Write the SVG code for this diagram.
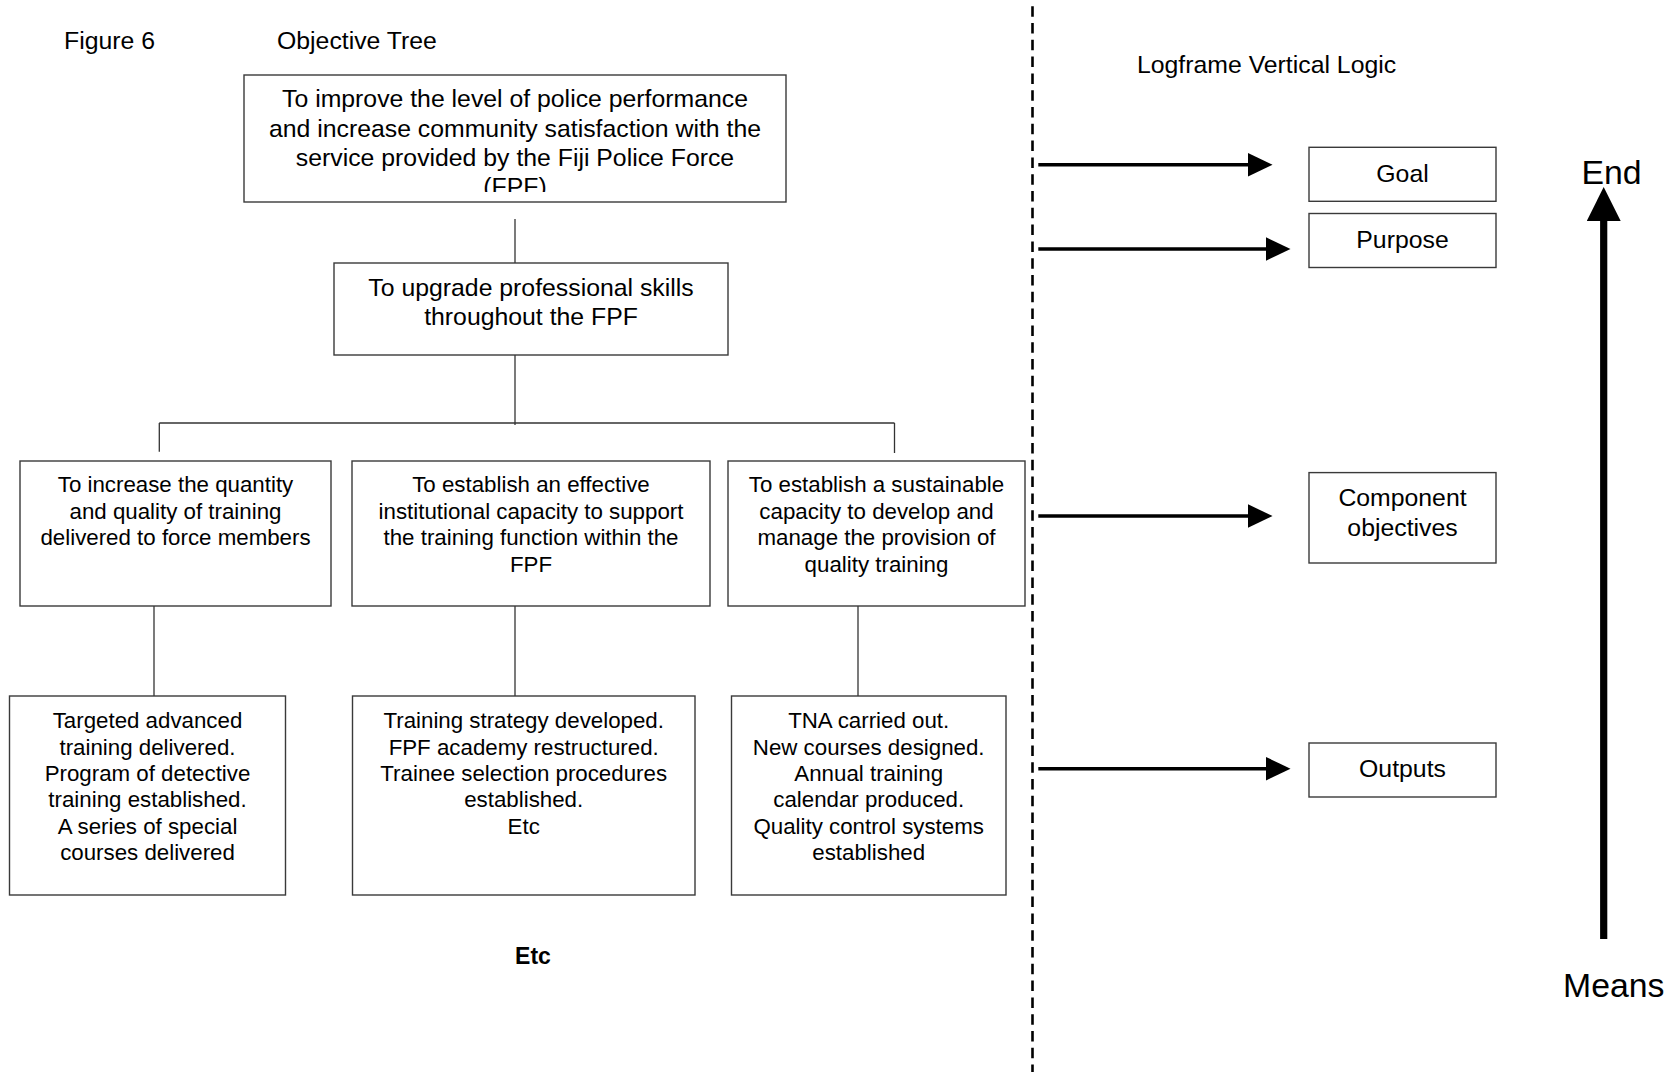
<svg xmlns="http://www.w3.org/2000/svg" width="1669" height="1072" viewBox="0 0 1669 1072">
  <style>
    text { font-family: "Liberation Sans", Arial, sans-serif; fill: #000; }
    .big { font-size: 24.8px; }
    .small { font-size: 22.3px; }
    .huge { font-size: 33.8px; }
    .mid { text-anchor: middle; }
    .box { fill: #fff; stroke: #3a3a3a; stroke-width: 1.4; }
    .conn { stroke: #333; stroke-width: 1.3; fill: none; }
    .arrow { stroke: #000; stroke-width: 3.4; fill: none; }
    .divider { stroke: #000; stroke-width: 2.6; stroke-dasharray: 10.5 6.3; stroke-dashoffset: 10.6; fill: none; }
  </style>
  <defs>
    <marker id="head" markerUnits="userSpaceOnUse" markerWidth="26" markerHeight="24" refX="1" refY="11.7" orient="auto">
      <path d="M0,0 L24.5,11.7 L0,23.4 Z" fill="#000"/>
    </marker>
    <marker id="bighead" markerUnits="userSpaceOnUse" markerWidth="36" markerHeight="36" refX="1" refY="17" orient="auto">
      <path d="M0,0 L34,17 L0,34 Z" fill="#000"/>
    </marker>
    <clipPath id="clipTop">
      <rect x="244" y="75" width="542" height="117"/>
    </clipPath>
  </defs>
  <rect x="0" y="0" width="1669" height="1072" fill="#fff"/>

  <!-- headings -->
  <g id="headings">
    <text class="big" x="64" y="49">Figure 6</text>
    <text class="big" x="277" y="49">Objective Tree</text>
    <text class="big" x="1137" y="73">Logframe Vertical Logic</text>
    <text class="big" x="533" y="964" style="font-weight:bold;font-size:23px" text-anchor="middle">Etc</text>
  </g>

  <!-- connectors -->
  <g id="connectors">
    <line class="conn" x1="515" y1="219" x2="515" y2="263"/>
    <line class="conn" x1="515" y1="355" x2="515" y2="425"/>
    <line class="conn" x1="159.3" y1="423" x2="894.5" y2="423"/>
    <line class="conn" x1="159.3" y1="423" x2="159.3" y2="451.7"/>
    <line class="conn" x1="894.5" y1="423" x2="894.5" y2="453"/>
    <line class="conn" x1="154" y1="606" x2="154" y2="696"/>
    <line class="conn" x1="515" y1="606" x2="515" y2="696"/>
    <line class="conn" x1="858" y1="606" x2="858" y2="696"/>
    <line class="divider" x1="1032.5" y1="0" x2="1032.5" y2="1072"/>
    <line class="arrow" x1="1038.3" y1="164.7" x2="1249" y2="164.7" marker-end="url(#head)"/>
    <line class="arrow" x1="1038.3" y1="249" x2="1267" y2="249" marker-end="url(#head)"/>
    <line class="arrow" x1="1038.3" y1="516" x2="1249" y2="516" marker-end="url(#head)"/>
    <line class="arrow" x1="1038.3" y1="768.7" x2="1267" y2="768.7" marker-end="url(#head)"/>
    <line x1="1603.7" y1="939" x2="1603.7" y2="220" stroke="#000" stroke-width="7.2" marker-end="url(#bighead)"/>
  </g>

  <!-- tree nodes -->
  <g id="goal-objective">
    <rect class="box" x="244" y="75" width="542" height="127"/>
    <g clip-path="url(#clipTop)">
      <text class="big mid" x="515" y="107.3">To improve the level of police performance</text>
      <text class="big mid" x="515" y="136.6">and increase community satisfaction with the</text>
      <text class="big mid" x="515" y="165.9">service provided by the Fiji Police Force</text>
      <text class="big mid" x="515" y="195.2">(FPF)</text>
    </g>
  </g>

  <g id="purpose-objective">
    <rect class="box" x="334" y="263" width="394" height="92"/>
    <text class="big mid" x="531" y="295.5">To upgrade professional skills</text>
    <text class="big mid" x="531" y="325">throughout the FPF</text>
  </g>

  <g id="component-1">
    <rect class="box" x="20" y="461" width="311" height="145"/>
    <text class="small mid" x="175.5" y="492.3">To increase the quantity</text>
    <text class="small mid" x="175.5" y="518.8">and quality of training</text>
    <text class="small mid" x="175.5" y="545.3">delivered to force members</text>
  </g>

  <g id="component-2">
    <rect class="box" x="352" y="461" width="358" height="145"/>
    <text class="small mid" x="531" y="492.3">To establish an effective</text>
    <text class="small mid" x="531" y="518.8">institutional capacity to support</text>
    <text class="small mid" x="531" y="545.3">the training function within the</text>
    <text class="small mid" x="531" y="571.8">FPF</text>
  </g>

  <g id="component-3">
    <rect class="box" x="728" y="461" width="297" height="145"/>
    <text class="small mid" x="876.5" y="492.3">To establish a sustainable</text>
    <text class="small mid" x="876.5" y="518.8">capacity to develop and</text>
    <text class="small mid" x="876.5" y="545.3">manage the provision of</text>
    <text class="small mid" x="876.5" y="571.8">quality training</text>
  </g>

  <g id="outputs-1">
    <rect class="box" x="9.5" y="696" width="276" height="199"/>
    <text class="small mid" x="147.5" y="728.3">Targeted advanced</text>
    <text class="small mid" x="147.5" y="754.6">training delivered.</text>
    <text class="small mid" x="147.5" y="780.9">Program of detective</text>
    <text class="small mid" x="147.5" y="807.2">training established.</text>
    <text class="small mid" x="147.5" y="833.5">A series of special</text>
    <text class="small mid" x="147.5" y="859.8">courses delivered</text>
  </g>

  <g id="outputs-2">
    <rect class="box" x="352.5" y="696" width="342.5" height="199"/>
    <text class="small mid" x="523.7" y="728.3">Training strategy developed.</text>
    <text class="small mid" x="523.7" y="754.6">FPF academy restructured.</text>
    <text class="small mid" x="523.7" y="780.9">Trainee selection procedures</text>
    <text class="small mid" x="523.7" y="807.2">established.</text>
    <text class="small mid" x="523.7" y="833.5">Etc</text>
  </g>

  <g id="outputs-3">
    <rect class="box" x="731.5" y="696" width="274.5" height="199"/>
    <text class="small mid" x="868.7" y="728.3">TNA carried out.</text>
    <text class="small mid" x="868.7" y="754.6">New courses designed.</text>
    <text class="small mid" x="868.7" y="780.9">Annual training</text>
    <text class="small mid" x="868.7" y="807.2">calendar produced.</text>
    <text class="small mid" x="868.7" y="833.5">Quality control systems</text>
    <text class="small mid" x="868.7" y="859.8">established</text>
  </g>

  <!-- logframe nodes -->
  <g id="lf-goal">
    <rect class="box" x="1309" y="147.3" width="187" height="54"/>
    <text class="big mid" x="1402.5" y="181.5">Goal</text>
  </g>
  <g id="lf-purpose">
    <rect class="box" x="1309" y="213.5" width="187" height="54"/>
    <text class="big mid" x="1402.5" y="247.5">Purpose</text>
  </g>
  <g id="lf-component">
    <rect class="box" x="1309" y="472.6" width="187" height="90.4"/>
    <text class="big mid" x="1402.5" y="505.8">Component</text>
    <text class="big mid" x="1402.5" y="535.8">objectives</text>
  </g>
  <g id="lf-outputs">
    <rect class="box" x="1309" y="743" width="187" height="54"/>
    <text class="big mid" x="1402.5" y="777">Outputs</text>
  </g>

  <g id="end-means">
    <text class="huge" x="1581.5" y="184">End</text>
    <text class="huge" x="1563" y="997">Means</text>
  </g>
</svg>
